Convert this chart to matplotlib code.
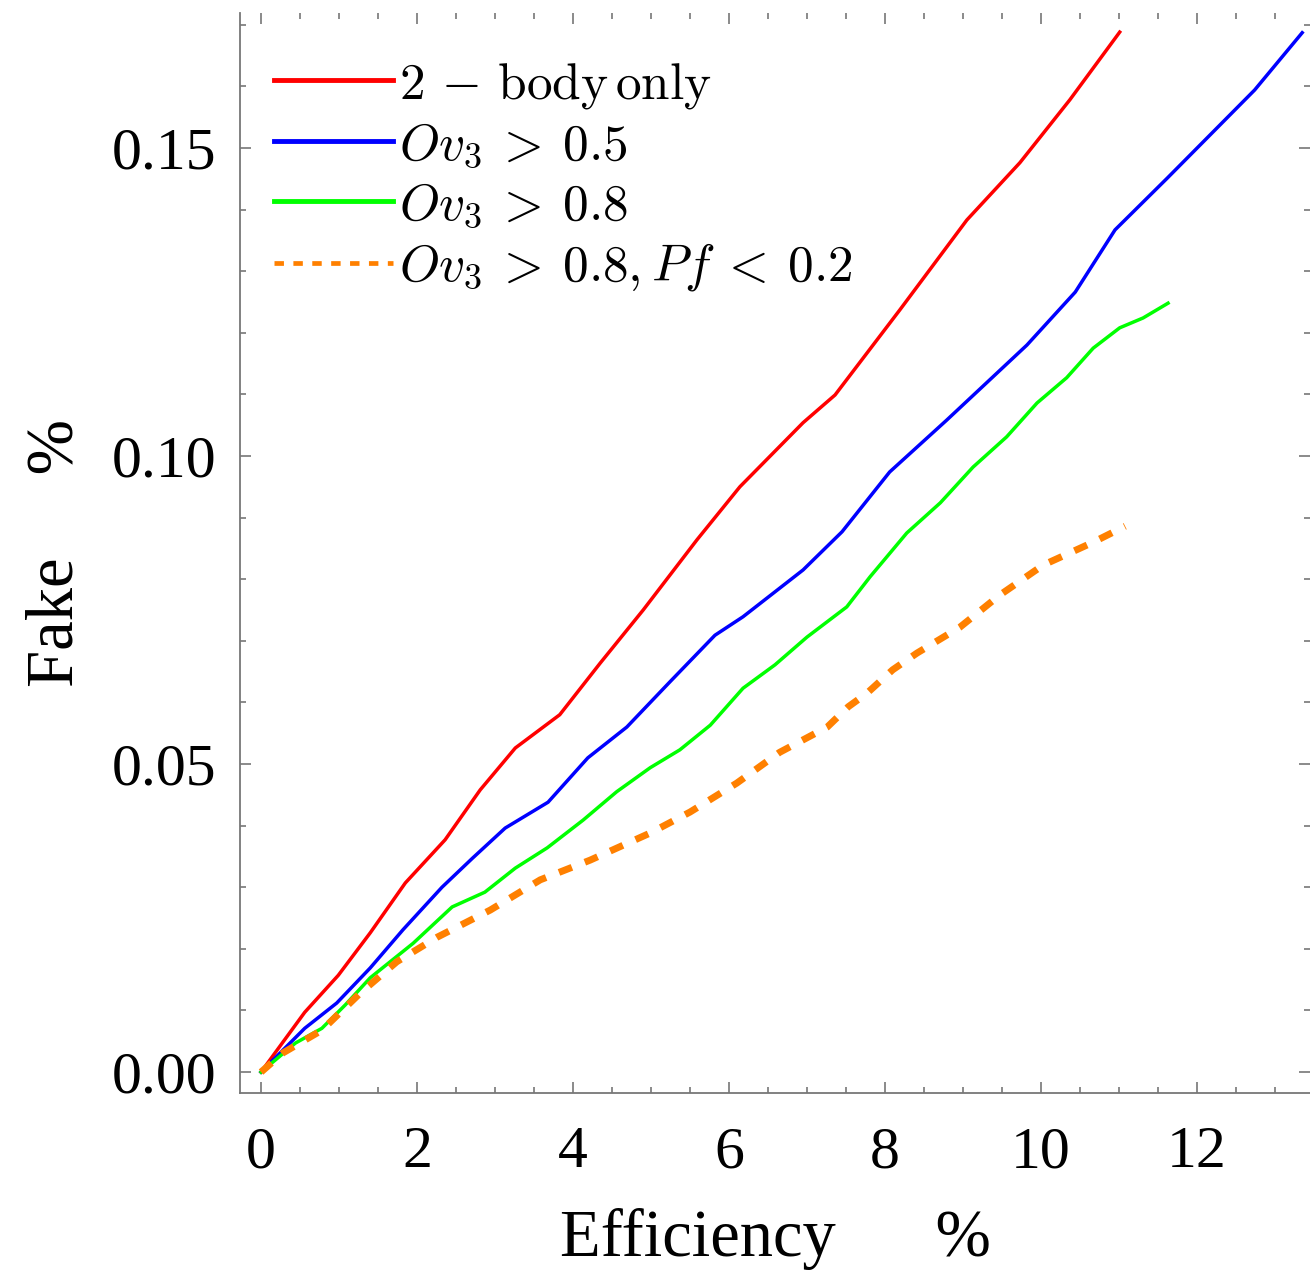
import matplotlib
matplotlib.use("Agg")
import matplotlib.pyplot as plt
from matplotlib.ticker import MultipleLocator, FormatStrFormatter

plt.rcParams["font.family"] = ["Liberation Serif", "DejaVu Serif"]
plt.rcParams["mathtext.fontset"] = "cm"

# Efficiency (%) vs fake rate (%)
eff_2body = [0, 0.56, 0.99, 1.40, 1.85, 2.36, 2.81, 3.26, 3.83, 4.35, 4.90, 5.59,
             6.14, 6.95, 7.36, 8.19, 9.05, 9.73, 10.37, 11.01]
fake_2body = [0, 0.0097, 0.0157, 0.0226, 0.0307, 0.0377, 0.0458, 0.0526, 0.0580,
              0.0664, 0.0750, 0.0864, 0.0950, 0.1054, 0.1099, 0.1237, 0.1383,
              0.1476, 0.1578, 0.1688]

eff_ov05 = [0, 0.56, 0.97, 1.40, 1.82, 2.32, 2.71, 3.13, 3.68, 4.19, 4.69, 5.24,
            5.82, 6.18, 6.95, 7.45, 8.06, 8.79, 9.82, 10.44, 10.95, 11.62, 12.74, 13.35]
fake_ov05 = [0, 0.0071, 0.0112, 0.0169, 0.0231, 0.0300, 0.0347, 0.0396, 0.0438,
             0.0510, 0.0560, 0.0633, 0.0709, 0.0739, 0.0815, 0.0877, 0.0974,
             0.1058, 0.1180, 0.1266, 0.1367, 0.1451, 0.1594, 0.1687]

eff_ov08 = [0, 0.44, 0.78, 1.08, 1.40, 1.95, 2.45, 2.87, 3.26, 3.67, 4.13, 4.56,
            4.99, 5.37, 5.76, 6.18, 6.59, 7.00, 7.51, 7.81, 8.28, 8.71, 9.13,
            9.56, 9.95, 10.33, 10.67, 11.01, 11.31, 11.63]
fake_ov08 = [0, 0.0047, 0.0071, 0.0109, 0.0153, 0.0209, 0.0268, 0.0292, 0.0331,
             0.0364, 0.0409, 0.0455, 0.0494, 0.0523, 0.0563, 0.0623, 0.0661,
             0.0706, 0.0755, 0.0804, 0.0875, 0.0924, 0.0982, 0.1031, 0.1086,
             0.1127, 0.1175, 0.1208, 0.1224, 0.1248]

eff_pf = [0, 0.28, 0.78, 1.27, 1.74, 2.26, 2.94, 3.58, 4.22, 4.99, 5.50, 6.10,
          6.65, 7.26, 7.53, 7.77, 8.10, 8.41, 8.96, 9.47, 10.03, 10.67, 11.08]
fake_pf = [0, 0.0031, 0.0068, 0.0128, 0.0179, 0.0219, 0.0263, 0.0312, 0.0344,
           0.0388, 0.0422, 0.0469, 0.0519, 0.0560, 0.0593, 0.0615, 0.0653,
           0.0680, 0.0722, 0.0774, 0.0823, 0.0860, 0.0886]

labels = [r"$2\,-\,\mathrm{body\,only}$", r"$Ov_3\:>\:0.5$", r"$Ov_3\:>\:0.8$",
          r"$Ov_3\:>\:0.8, Pf\:<\:0.2$"]

fig = plt.figure(figsize=(13.1, 12.7), dpi=100)
ax = fig.add_axes([240 / 1310, 177 / 1270, 1 - 240 / 1310, (1093 - 13) / 1270])

ax.plot(eff_2body, fake_2body, color="#ff0000", lw=2.5, label=labels[0])
ax.plot(eff_ov05, fake_ov05, color="#0000ff", lw=2.5, label=labels[1])
ax.plot(eff_ov08, fake_ov08, color="#00ff00", lw=2.5, label=labels[2])
ax.plot(eff_pf, fake_pf, color="#ff8000", lw=5, dashes=(2.0, 2.0), label=labels[3])

ax.set_xlim(-0.27, 13.45)
ax.set_ylim(-0.0034, 0.1719)

ax.xaxis.set_major_locator(MultipleLocator(2))
ax.xaxis.set_minor_locator(MultipleLocator(0.5))
ax.yaxis.set_major_locator(MultipleLocator(0.05))
ax.yaxis.set_minor_locator(MultipleLocator(0.01))
ax.yaxis.set_major_formatter(FormatStrFormatter("%.2f"))

grey = "#777777"
for s in ["top", "right"]:
    ax.spines[s].set_visible(False)
for s in ["left", "bottom"]:
    ax.spines[s].set_color(grey)
    ax.spines[s].set_linewidth(1.3)

ax.tick_params(which="both", direction="in", top=True, right=True, color=grey,
               width=1.2, labelsize=43)
ax.tick_params(which="major", length=8)
ax.tick_params(which="minor", length=4)
ax.tick_params(axis="x", pad=24)
ax.tick_params(axis="y", pad=17)

ax.set_xlabel("Efficiency      %", fontsize=48, labelpad=20)
ax.set_ylabel("Fake     %", fontsize=48, labelpad=18)

leg = ax.legend(loc="upper left", bbox_to_anchor=(0.013, 0.975), frameon=False,
                fontsize=37, handlelength=2.3, handletextpad=0.12,
                labelspacing=0.22, borderaxespad=0)
for h in leg.get_lines()[:3]:
    h.set_linewidth(3.5)
leg.get_lines()[3].set_linewidth(3.4)

fig.savefig("out.png", dpi=100)
